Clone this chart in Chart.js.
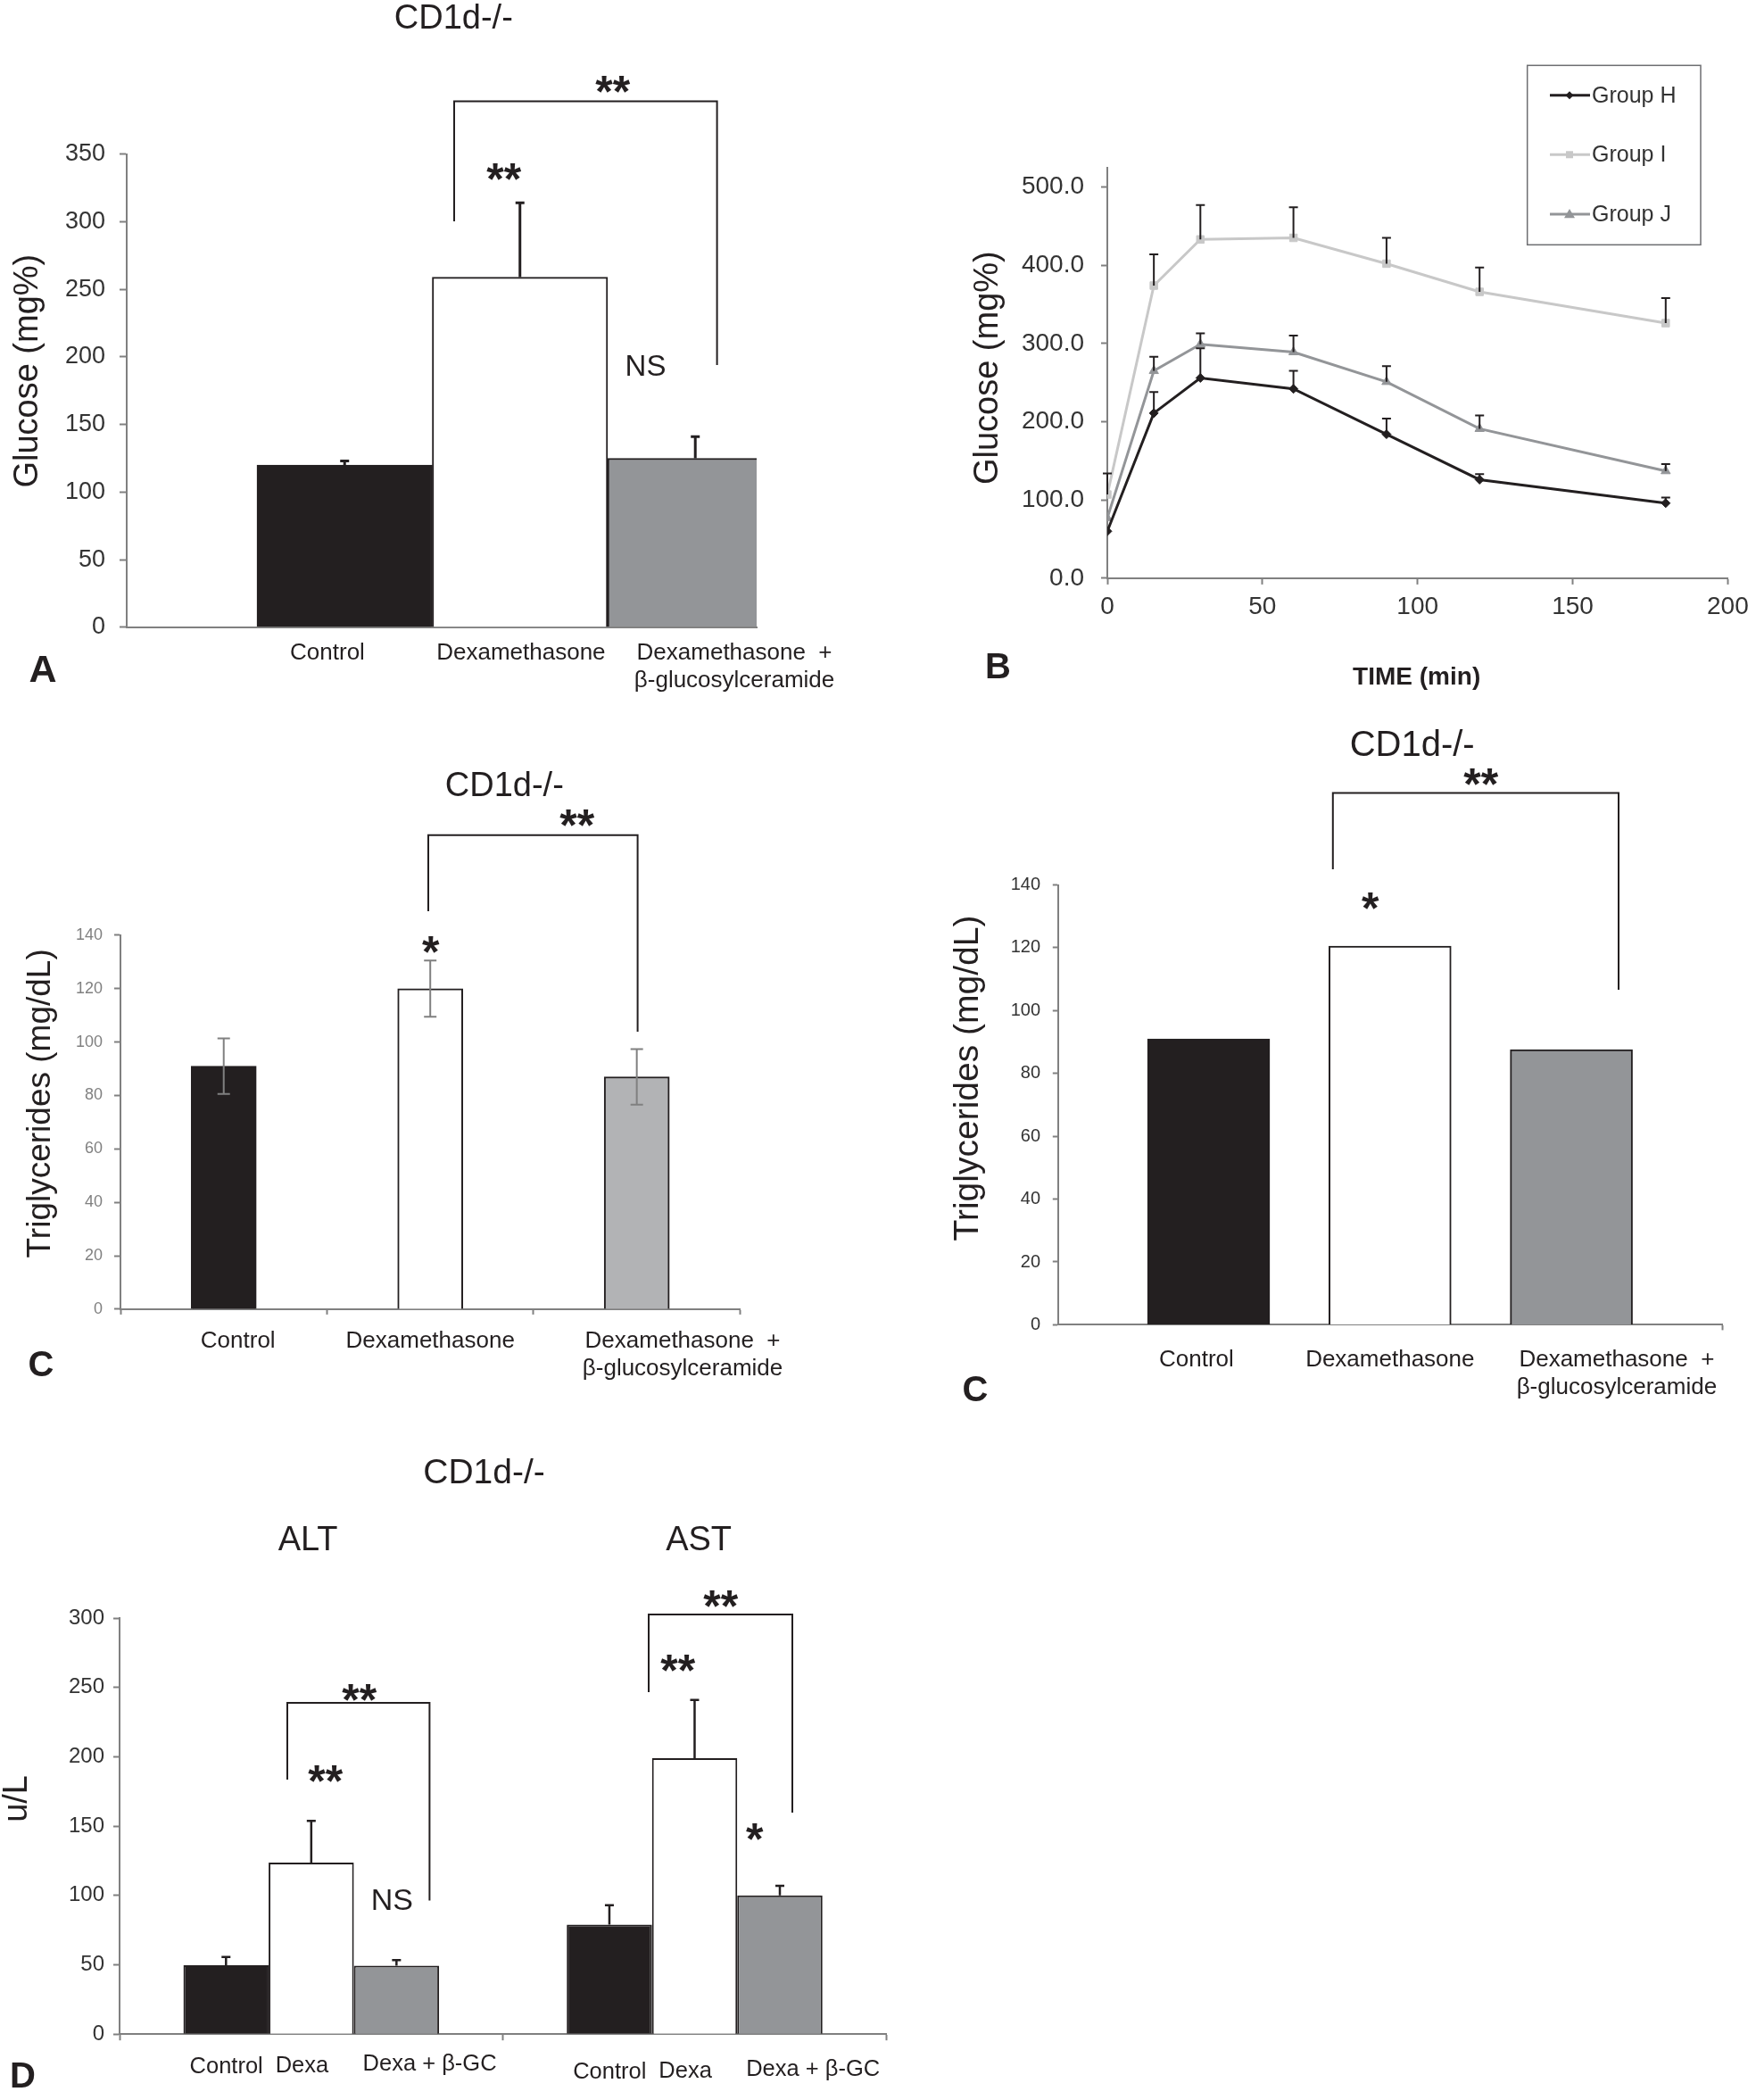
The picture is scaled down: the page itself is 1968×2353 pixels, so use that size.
<!DOCTYPE html>
<html>
<head>
<meta charset="utf-8">
<title>CD1d-/- panels</title>
<script src="https://cdn.jsdelivr.net/npm/chart.js@4.4.1/dist/chart.umd.min.js"></script>
<style>
  html, body { margin: 0; padding: 0; background: #fff; }
  body { position: relative; width: 1968px; height: 2353px; overflow: hidden; }
  canvas { position: absolute; }
</style>
</head>
<body>
<canvas id="chartA"></canvas>
<canvas id="chartB"></canvas>
<canvas id="chartC1"></canvas>
<canvas id="chartC2"></canvas>
<canvas id="chartD"></canvas>
<script>
var FONT = '"Liberation Sans", Arial, sans-serif';
var INK = '#231f20';
var AXIS = '#808080';

// ---- data ----
// A: fasting glucose
var treatGroups = ['Control', 'Dexamethasone', ['Dexamethasone  +', 'β-glucosylceramide']];
var glucoseMean = [120, 259, 125];
var glucoseErr = [3, 55, 16];

// B: glucose tolerance
var timeMin = [0, 15, 30, 60, 90, 120, 180];
var groupNames = ['Group H', 'Group I', 'Group J'];
var groupH = [60, 211, 256, 242, 184, 126, 96];
var groupHErr = [0, 27, 38, 23, 20, 7, 7];
var groupI = [107, 374, 433, 435, 402, 366, 326];
var groupIErr = [27, 40, 44, 39, 33, 31, 32];
var groupJ = [77, 265, 299, 289, 251, 191, 137];
var groupJErr = [0, 18, 14, 21, 20, 17, 9];

// C: triglycerides (two versions)
var tgMean = [91, 120, 87];
var tgErr = [10.4, 10.5, 10.4];
var tgMean2 = [91, 120.5, 87.6];

// D: liver enzymes
var enzymes = ['ALT', 'AST'];
var enzGroups = ['Control', 'Dexa', 'Dexa + β-GC'];
var enzControl = [49.7, 79];
var enzControlErr = [6, 14];
var enzDexa = [123.7, 199];
var enzDexaErr = [30, 42];
var enzDexaGC = [49.4, 100];
var enzDexaGCErr = [4, 7];

Chart.defaults.font.family = FONT;
Chart.defaults.color = INK;
Chart.defaults.animation = false;
Chart.defaults.plugins.legend.display = false;
Chart.defaults.plugins.tooltip.enabled = false;

var STAR = 'bold 50px ' + FONT;

// text centred on its ink box
function putText(ctx, s, x, y, font, color, rot) {
  ctx.save();
  ctx.font = font;
  ctx.fillStyle = color || INK;
  ctx.textAlign = 'left';
  ctx.textBaseline = 'alphabetic';
  ctx.translate(x, y);
  if (rot) ctx.rotate(rot);
  var m = ctx.measureText(s);
  ctx.fillText(s, -(m.actualBoundingBoxRight - m.actualBoundingBoxLeft) / 2,
    (m.actualBoundingBoxAscent - m.actualBoundingBoxDescent) / 2);
  ctx.restore();
}

function drawNotes(ctx, box, notes) {
  ctx.save();
  ctx.translate(-box.x, -box.y);
  (notes.lines || []).forEach(function (p) {
    ctx.beginPath();
    ctx.moveTo(p[0], p[1]);
    for (var i = 2; i < p.length; i += 2) ctx.lineTo(p[i], p[i + 1]);
    ctx.lineWidth = 2;
    ctx.strokeStyle = INK;
    ctx.stroke();
  });
  (notes.texts || []).forEach(function (t) {
    putText(ctx, t[0], t[1], t[2], t[3], t[4], t[5]);
  });
  ctx.restore();
}

function errorBars(color, width, cap) {
  return {
    id: 'errorBars',
    afterDatasetsDraw: function (chart) {
      var ctx = chart.ctx, ys = chart.scales.y;
      ctx.save();
      ctx.strokeStyle = color;
      ctx.lineWidth = width;
      chart.data.datasets.forEach(function (ds, di) {
        if (!ds.errUp) return;
        var meta = chart.getDatasetMeta(di);
        meta.data.forEach(function (el, i) {
          if (!ds.errUp[i]) return;
          var v = meta.controller.getParsed(i).y;
          var x = el.x;
          var top = ys.getPixelForValue(v + ds.errUp[i]);
          var bot = ys.getPixelForValue(ds.errDown ? v - ds.errDown[i] : v);
          ctx.beginPath();
          ctx.moveTo(x, bot); ctx.lineTo(x, top);
          ctx.moveTo(x - cap, top); ctx.lineTo(x + cap, top);
          if (ds.errDown) { ctx.moveTo(x - cap, bot); ctx.lineTo(x + cap, bot); }
          ctx.stroke();
        });
      });
      ctx.restore();
    }
  };
}

function makeChart(id, box, area, config, notes) {
  var cv = document.getElementById(id);
  cv.width = box.w;
  cv.height = box.h;
  cv.style.left = box.x + 'px';
  cv.style.top = box.y + 'px';
  var o = config.options;
  o.responsive = false;
  o.devicePixelRatio = 1;
  o.layout = { padding: { left: 0, top: area.t - box.y, right: box.x + box.w - area.r, bottom: 0 } };
  o.scales.y.afterFit = function (s) { s.width = area.l - box.x; };
  o.scales.x.afterFit = function (s) { s.height = box.y + box.h - area.b; };
  config.plugins = (config.plugins || []).concat([{
    id: 'notes',
    afterDraw: function (chart) { drawNotes(chart.ctx, box, notes); }
  }]);
  return new Chart(cv, config);
}

function yAxis(max, step, size, color, tl, pad, fmt) {
  var ticks = { stepSize: step, includeBounds: false, font: { size: size }, color: color, padding: pad };
  if (fmt) ticks.callback = fmt;
  return {
    min: 0, max: max,
    border: { color: AXIS, width: 2 },
    grid: { display: true, drawOnChartArea: false, tickLength: tl, tickWidth: 2, tickColor: AXIS },
    ticks: ticks
  };
}

// linear x axis: some ticks carry a label, some only a tick mark
function labelAxis(min, max, defs, size, pad, tl) {
  return {
    type: 'linear', min: min, max: max, offset: false,
    border: { color: AXIS, width: 2 },
    grid: {
      display: tl > 0, drawOnChartArea: false, offset: false, tickLength: tl || 1, tickWidth: 2,
      tickColor: function (c) { return defs[c.index] && defs[c.index].mark ? AXIS : 'rgba(0,0,0,0)'; }
    },
    afterBuildTicks: function (s) { s.ticks = defs.map(function (d) { return { value: d.v }; }); },
    ticks: {
      autoSkip: false, maxRotation: 0, minRotation: 0, padding: pad,
      font: { size: size }, color: INK,
      callback: function (v, i) { return defs[i].text; }
    }
  };
}

function points(xs, ys) {
  return xs.map(function (x, i) { return { x: x, y: ys[i] }; });
}
function slots(ys) {
  return ys.map(function (y, i) { return { x: i + 1, y: y }; });
}

// ---------- A ----------
var boxA = { x: 0, y: 0, w: 980, h: 800 };
var areaA = { l: 142, r: 848, t: 172.8, b: 702.8 };
var labelPosA = [0.902, 2.006, 3.223];
makeChart('chartA', boxA, areaA, {
  type: 'bar',
  data: {
    datasets: [{
      data: slots(glucoseMean),
      errUp: glucoseErr,
      backgroundColor: [INK, '#ffffff', '#939598'],
      borderColor: INK, borderWidth: 2,
      barThickness: 196.5, clip: 0
    }]
  },
  options: {
    scales: {
      x: labelAxis(-0.243, 3.35, labelPosA.map(function (v, i) { return { v: v, text: treatGroups[i] }; }), 26, 12.6, 0),
      y: yAxis(350, 50, 27, '#333', 8, 16)
    }
  },
  plugins: [errorBars(INK, 3, 5)]
}, {
  lines: [[509, 248, 509, 113.4, 803.6, 113.4, 803.6, 409]],
  texts: [
    ['CD1d-/-', 508, 18, '38px ' + FONT],
    ['Glucose (mg%)', 32, 416, '38px ' + FONT, INK, -Math.PI / 2],
    ['**', 687, 94, STAR],
    ['**', 565, 192, STAR],
    ['NS', 724, 409, '33px ' + FONT],
    ['A', 48, 749, 'bold 43px ' + FONT]
  ]
});

// ---------- B ----------
var boxB = { x: 1050, y: 60, w: 918, h: 740 };
var areaB = { l: 1241, r: 1938, t: 187.6, b: 647.9 };
var seriesB = [
  { name: groupNames[0], v: groupH, e: groupHErr, color: INK, style: 'rectRot', r: 5, lr: 4.5 },
  { name: groupNames[1], v: groupI, e: groupIErr, color: '#c8c8c8', style: 'rect', r: 6, lr: 4 },
  { name: groupNames[2], v: groupJ, e: groupJErr, color: '#939598', style: 'triangle', r: 6, lr: 6 }
];
function marker(ctx, style, x, y, r, color) {
  ctx.fillStyle = color;
  ctx.beginPath();
  if (style === 'rectRot') {
    ctx.moveTo(x, y - r); ctx.lineTo(x + r, y); ctx.lineTo(x, y + r); ctx.lineTo(x - r, y);
  } else if (style === 'rect') {
    ctx.rect(x - r, y - r, 2 * r, 2 * r);
  } else {
    ctx.moveTo(x, y - r); ctx.lineTo(x + r, y + r * 0.7); ctx.lineTo(x - r, y + r * 0.7);
  }
  ctx.closePath();
  ctx.fill();
}
var legendB = {
  id: 'floatLegend',
  afterDraw: function (chart) {
    var ctx = chart.ctx;
    ctx.save();
    ctx.translate(-boxB.x, -boxB.y);
    ctx.strokeStyle = '#6d6e71';
    ctx.lineWidth = 1.5;
    ctx.strokeRect(1711.7, 73.3, 194.3, 201);
    var rows = [106.7, 173.3, 240];
    chart.data.datasets.forEach(function (ds, i) {
      var y = rows[i];
      ctx.strokeStyle = ds.borderColor;
      ctx.lineWidth = 3;
      ctx.beginPath(); ctx.moveTo(1737, y); ctx.lineTo(1782, y); ctx.stroke();
      marker(ctx, ds.pointStyle, 1759, y, seriesB[i].lr, ds.borderColor);
      ctx.fillStyle = '#333';
      ctx.font = '25px ' + FONT;
      ctx.textAlign = 'left';
      ctx.textBaseline = 'middle';
      ctx.fillText(ds.label, 1784, y + 1);
    });
    ctx.restore();
  }
};
makeChart('chartB', boxB, areaB, {
  type: 'line',
  data: {
    datasets: seriesB.map(function (s) {
      return {
        label: s.name,
        data: points(timeMin, s.v),
        errUp: s.e,
        borderColor: s.color, backgroundColor: s.color,
        borderWidth: 3, tension: 0,
        pointStyle: s.style, pointRadius: s.r,
        pointBackgroundColor: s.color, pointBorderColor: s.color, pointBorderWidth: 1
      };
    })
  },
  options: {
    scales: {
      x: {
        type: 'linear', min: 0, max: 200,
        border: { color: AXIS, width: 2 },
        grid: { display: true, drawOnChartArea: false, tickLength: 7, tickWidth: 2, tickColor: AXIS },
        ticks: { stepSize: 50, font: { size: 28 }, color: '#333', padding: 8.3 }
      },
      y: yAxis(525, 100, 28, '#333', 7, 19, function (v) { return v.toFixed(1); })
    }
  },
  plugins: [errorBars(INK, 2, 5), legendB]
}, {
  texts: [
    ['Glucose (mg%)', 1108, 412.5, '38px ' + FONT, INK, -Math.PI / 2],
    ['TIME (min)', 1587, 760, 'bold 28px ' + FONT],
    ['B', 1119, 746, 'bold 40px ' + FONT]
  ]
});

// ---------- C (left, with error bars) ----------
var boxC1 = { x: 0, y: 840, w: 980, h: 730 };
var areaC1 = { l: 135, r: 829.4, t: 1047.9, b: 1466.9 };
var labelPosC1 = [1.069, 2.0, 3.222];
var ticksC1 = [{ v: 0.5, mark: true, text: '' }];
labelPosC1.forEach(function (v, i) {
  ticksC1.push({ v: v, text: treatGroups[i] });
  ticksC1.push({ v: i + 1.5, mark: true, text: '' });
});
ticksC1.sort(function (a, b) { return a.v - b.v; });
makeChart('chartC1', boxC1, areaC1, {
  type: 'bar',
  data: {
    datasets: [{
      data: slots(tgMean),
      errUp: tgErr, errDown: tgErr,
      backgroundColor: [INK, '#ffffff', '#b2b3b5'],
      borderColor: INK, borderWidth: 2,
      barThickness: 73, clip: 0
    }]
  },
  options: {
    scales: {
      x: labelAxis(0.5, 3.5, ticksC1, 26, 14.3, 6),
      y: yAxis(140, 20, 18, '#808080', 7, 13)
    }
  },
  plugins: [errorBars('#808080', 2, 7)]
}, {
  lines: [[480, 1021, 480, 935.7, 714.6, 935.7, 714.6, 1156]],
  texts: [
    ['CD1d-/-', 565, 878, '38px ' + FONT],
    ['Triglycerides (mg/dL)', 46, 1237, '37px ' + FONT, INK, -Math.PI / 2],
    ['**', 647, 916, STAR],
    ['*', 483, 1058, STAR],
    ['C', 46, 1528, 'bold 40px ' + FONT]
  ]
});

// ---------- C (right, means only) ----------
var boxC2 = { x: 1050, y: 800, w: 918, h: 780 };
var areaC2 = { l: 1185.8, r: 1930, t: 991.5, b: 1484.4 };
var labelPosC2 = [0.933, 2.0, 3.25];
var ticksC2 = labelPosC2.map(function (v, i) { return { v: v, text: treatGroups[i] }; });
ticksC2.push({ v: 3.831, mark: true, text: '' });
makeChart('chartC2', boxC2, areaC2, {
  type: 'bar',
  data: {
    datasets: [{
      data: slots(tgMean2),
      backgroundColor: [INK, '#ffffff', '#939598'],
      borderColor: INK, borderWidth: 2,
      barThickness: 137, clip: 0
    }]
  },
  options: {
    scales: {
      x: labelAxis(0.17, 3.831, ticksC2, 26, 17.7, 6),
      y: yAxis(140, 20, 20, '#333', 6, 13.8)
    }
  }
}, {
  lines: [[1493.8, 974, 1493.8, 888.5, 1814, 888.5, 1814, 1109]],
  texts: [
    ['CD1d-/-', 1583, 832, '40px ' + FONT],
    ['Triglycerides (mg/dL)', 1086, 1209, '39px ' + FONT, INK, -Math.PI / 2],
    ['**', 1660, 870, STAR],
    ['*', 1536, 1009, STAR],
    ['C', 1093, 1556, 'bold 40px ' + FONT]
  ]
});

// ---------- D ----------
var boxD = { x: 0, y: 1620, w: 1020, h: 733 };
var areaD = { l: 134, r: 993.3, t: 1813, b: 2279.2 };
var barLabelShift = [0, -9, 38];
var barLabelY = [2313, 2319];
var barLabels = {
  id: 'barLabels',
  afterDraw: function (chart) {
    var ctx = chart.ctx;
    chart.data.datasets.forEach(function (ds, di) {
      chart.getDatasetMeta(di).data.forEach(function (el, i) {
        putText(ctx, ds.label, el.x + barLabelShift[di], barLabelY[i] - boxD.y, '25.5px ' + FONT);
      });
    });
  }
};
makeChart('chartD', boxD, areaD, {
  type: 'bar',
  data: {
    labels: enzymes,
    datasets: [
      { label: enzGroups[0], data: enzControl, errUp: enzControlErr, backgroundColor: INK },
      { label: enzGroups[1], data: enzDexa, errUp: enzDexaErr, backgroundColor: '#ffffff' },
      { label: enzGroups[2], data: enzDexaGC, errUp: enzDexaGCErr, backgroundColor: '#939598' }
    ].map(function (d) {
      d.borderColor = INK; d.borderWidth = 2;
      d.barPercentage = 1; d.categoryPercentage = 0.667;
      return d;
    })
  },
  options: {
    scales: {
      x: {
        type: 'category', offset: true,
        border: { color: AXIS, width: 2 },
        grid: { display: true, drawOnChartArea: false, offset: true, tickLength: 7, tickWidth: 2, tickColor: AXIS },
        ticks: { display: false }
      },
      y: yAxis(300, 50, 24, '#333', 7, 10)
    }
  },
  plugins: [errorBars(INK, 2.5, 5), barLabels]
}, {
  lines: [
    [322, 1994, 322, 1908, 481.4, 1908, 481.4, 2129.6],
    [727, 1896, 727, 1809, 888, 1809, 888, 2031]
  ],
  texts: [
    ['CD1d-/-', 542.5, 1648, '39px ' + FONT],
    ['ALT', 345, 1723, '38px ' + FONT],
    ['AST', 783, 1723, '38px ' + FONT],
    ['u/L', 15.5, 2015, '38px ' + FONT, INK, -Math.PI / 2],
    ['**', 403, 1896, STAR],
    ['**', 365, 1987, STAR],
    ['NS', 440, 2128, '34px ' + FONT],
    ['**', 808, 1791, STAR],
    ['**', 760, 1863, STAR],
    ['*', 846, 2052, STAR],
    ['D', 26, 2325, 'bold 40px ' + FONT]
  ]
});
</script>
</body>
</html>
